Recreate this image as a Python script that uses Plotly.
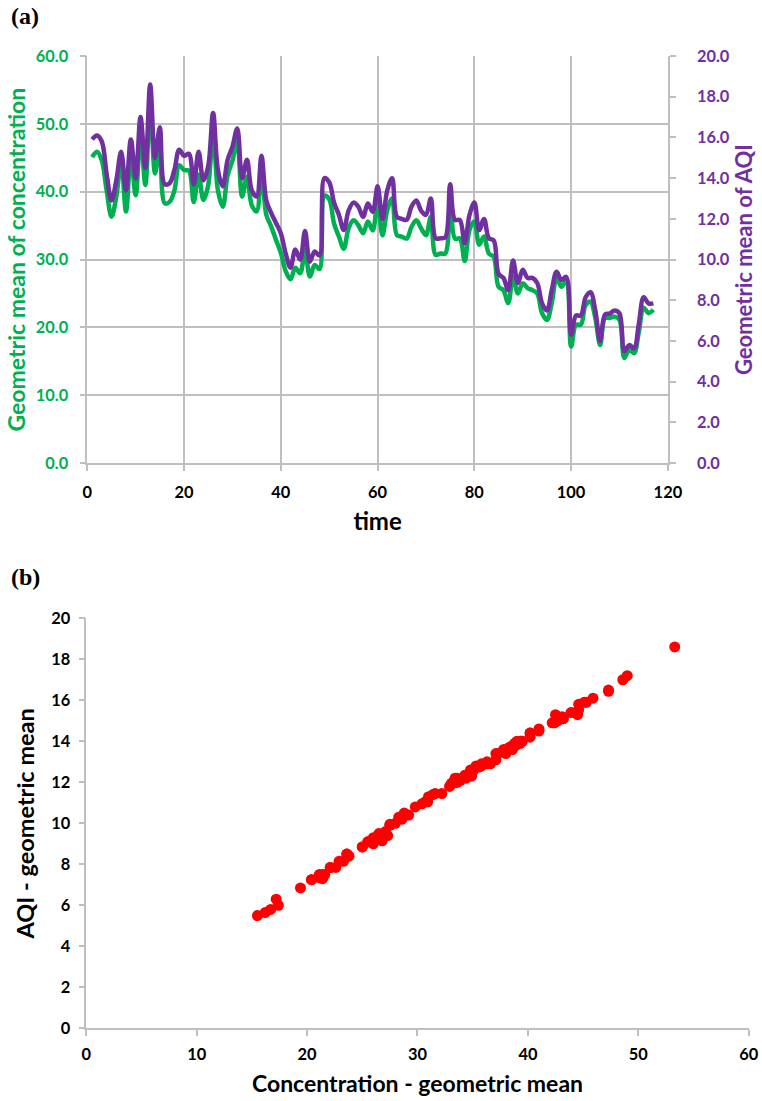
import plotly.graph_objects as go

time = list(range(1, 118))

conc_gm = [45.1, 45.9, 44.6, 40.2, 36.3, 39.3, 44.5, 37.1, 45.3, 39.5,
           48.6, 41.0, 53.3, 42.7, 47.3, 38.3, 38.5, 40.2, 43.9, 43.2,
           43.1, 38.5, 42.5, 38.8, 41.0, 49.0, 40.2, 37.8, 42.4, 44.6,
           47.3, 39.3, 42.2, 38.0, 37.1, 43.2, 36.6, 34.9, 32.9, 31.0,
           28.3, 27.1, 28.8, 28.0, 31.4, 27.5, 29.2, 28.6, 39.4, 38.9,
           35.3, 33.4, 31.6, 34.6, 35.8, 35.1, 33.9, 35.6, 34.3, 38.6,
           33.6, 37.3, 39.0, 33.6, 33.4, 33.1, 34.8, 35.8, 34.6, 33.6,
           36.3, 30.7, 30.9, 30.9, 38.6, 33.1, 33.1, 29.8, 34.4, 35.6,
           32.2, 33.4, 30.9, 30.4, 26.0, 25.5, 23.6, 27.5, 25.0, 26.5,
           25.8, 25.5, 25.0, 22.1, 21.1, 23.6, 27.3, 26.0, 26.8, 17.2,
           20.4, 20.4, 23.3, 23.8, 21.4, 17.4, 21.4, 21.4, 21.6, 21.1,
           15.5, 16.7, 16.2, 19.4, 22.9, 22.1, 22.6]

aqi_gm = [15.9, 16.1, 15.8, 14.2, 12.9, 13.9, 15.3, 13.4, 15.9, 14.0,
          17.0, 14.5, 18.6, 15.0, 16.5, 13.7, 13.75, 14.4, 15.4, 15.1,
          15.2, 13.7, 15.3, 13.9, 14.6, 17.2, 14.4, 13.6, 14.9, 15.55,
          16.44, 14.0, 14.9, 13.4, 13.1, 15.1, 12.9, 12.3, 11.8, 11.3,
          10.3, 9.6, 10.5, 10.0, 11.4, 9.9, 10.4, 10.2, 14.0, 13.8,
          12.8, 12.2, 11.45, 12.4, 12.8, 12.6, 12.1, 12.75, 12.35, 13.6,
          12.0, 13.4, 14.0, 12.1, 12.0, 11.95, 12.6, 12.9, 12.4, 12.2,
          13.0, 11.05, 11.05, 11.1, 13.7, 11.95, 11.95, 10.8, 12.2, 12.8,
          11.45, 12.0, 11.05, 10.95, 9.3, 9.1, 8.5, 9.95, 8.85, 9.5,
          9.1, 9.1, 8.85, 7.85, 7.5, 8.5, 9.4, 9.0, 9.15, 6.3,
          7.25, 7.25, 8.15, 8.4, 7.5, 6.0, 7.3, 7.35, 7.5, 7.35,
          5.5, 5.8, 5.65, 6.85, 8.15, 7.85, 7.85]

GREEN = "#00B050"
PURPLE = "#7030A0"
GRID = "#BFBFBF"
FONT = "Lato"

# figure size and a mapping from wanted on-page pixels to figure pixels
W, H = 776, 1110
SX, AX = 0.9766, 4.5
SY, AY = 0.9825, 10.0


def fx(p):
    return (p - AX) / SX


def fy(p):
    return (p - AY) / SY


def dom_x(a, b):
    return [fx(a) / W, fx(b) / W]


def dom_y(top, bottom):
    return [1 - fy(bottom) / H, 1 - fy(top) / H]


fig = go.Figure()

fig.add_trace(go.Scatter(x=time, y=conc_gm, mode="lines",
                         line=dict(color=GREEN, width=4.5, shape="spline", smoothing=1.0),
                         xaxis="x", yaxis="y", showlegend=False))
fig.add_trace(go.Scatter(x=time, y=aqi_gm, mode="lines",
                         line=dict(color=PURPLE, width=4.5, shape="spline", smoothing=1.0),
                         xaxis="x", yaxis="y2", showlegend=False))
fig.add_trace(go.Scatter(x=conc_gm, y=aqi_gm, mode="markers",
                         marker=dict(color="#FF0000", size=11),
                         xaxis="x2", yaxis="y3", showlegend=False))

TICK = 16.4
tickfont_black = dict(family=FONT, size=TICK, color="black", weight="bold")
axis_common = dict(zeroline=False, showline=True, linecolor=GRID, linewidth=1.5,
                   ticks="outside", ticklen=6, tickcolor=GRID, tickwidth=1.5)

fig.update_layout(
    width=W, height=H,
    margin=dict(l=0, r=0, t=0, b=0),
    paper_bgcolor="white", plot_bgcolor="white",
    xaxis=dict(domain=dom_x(87, 669), range=[0, 120], dtick=20, tick0=0,
               showgrid=True, gridcolor=GRID, gridwidth=1.5,
               tickfont=tickfont_black, ticklabelstandoff=7, anchor="y", **axis_common,
               title=dict(text="time", font=dict(family=FONT, size=24, color="black", weight="bold"), standoff=14)),
    yaxis=dict(domain=dom_y(56, 463), range=[0, 60], dtick=10, tick0=0, tickformat=".1f",
               showgrid=True, gridcolor=GRID, gridwidth=1.5,
               tickfont=dict(family=FONT, size=TICK, color=GREEN, weight="bold"), ticklabelstandoff=8,
               anchor="x", **axis_common,
               title=dict(text="Geometric mean of concentration",
                          font=dict(family=FONT, size=23, color=GREEN, weight="bold"), standoff=4)),
    yaxis2=dict(overlaying="y", side="right", anchor="x", range=[0, 20], dtick=2, tick0=0, tickformat=".1f",
                showgrid=False,
                tickfont=dict(family=FONT, size=TICK, color=PURPLE, weight="bold"), ticklabelstandoff=18,
                **axis_common,
                title=dict(text="Geometric mean of AQI",
                           font=dict(family=FONT, size=22, color=PURPLE, weight="bold"), standoff=0)),
    xaxis2=dict(domain=dom_x(86, 750), range=[0, 60], dtick=10, tick0=0,
                showgrid=False,
                tickfont=tickfont_black, ticklabelstandoff=4, anchor="y3", **axis_common,
                title=dict(text="Concentration - geometric mean",
                           font=dict(family=FONT, size=23, color="black", weight="bold"), standoff=14)),
    yaxis3=dict(domain=dom_y(618, 1028), range=[0, 20], dtick=2, tick0=0,
                showgrid=False,
                tickfont=tickfont_black, ticklabelstandoff=5, anchor="x2", **axis_common,
                title=dict(text="AQI - geometric mean",
                           font=dict(family=FONT, size=23.5, color="black", weight="bold"), standoff=10)),
    annotations=[
        dict(text="(a)", x=fx(9) / W, y=1 - fy(16) / H, xref="paper", yref="paper",
             xanchor="left", yanchor="middle", showarrow=False,
             font=dict(family="Liberation Serif", size=24, color="black", weight="bold")),
        dict(text="(b)", x=fx(9) / W, y=1 - fy(577) / H, xref="paper", yref="paper",
             xanchor="left", yanchor="middle", showarrow=False,
             font=dict(family="Liberation Serif", size=24, color="black", weight="bold")),
    ],
)

fig.write_html("out.html")
